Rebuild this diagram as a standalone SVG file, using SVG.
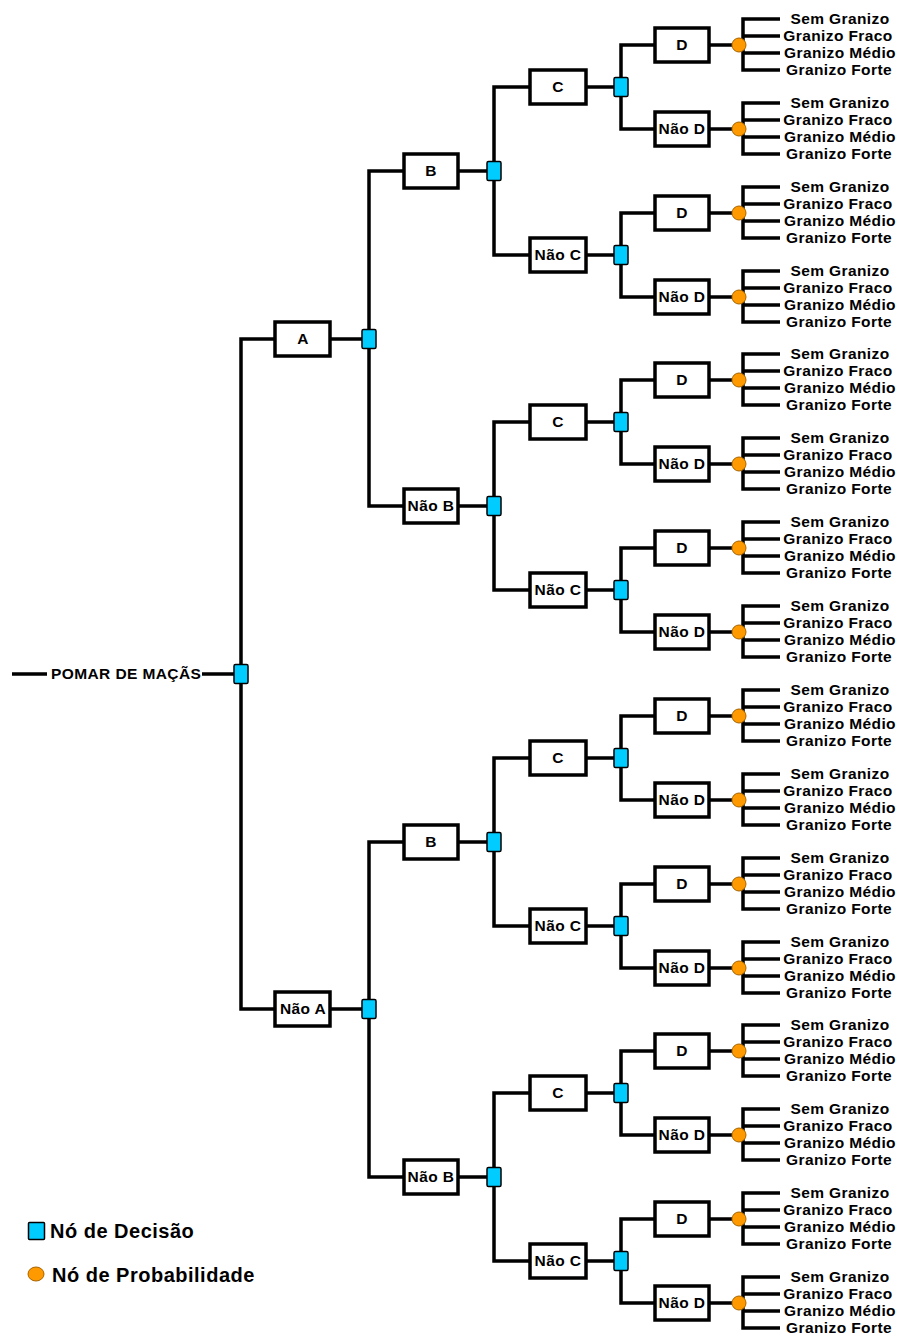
<svg xmlns="http://www.w3.org/2000/svg" width="898" height="1335" viewBox="0 0 898 1335">
<style>
.ln{fill:none;stroke:#000;stroke-width:3.5;stroke-linejoin:miter}
.box{fill:#fff;stroke:#000;stroke-width:3.5}
.dec{fill:#00CCFF;stroke:#000;stroke-width:1.5}
.prob{fill:#FF9900;stroke:#A86400;stroke-width:1}
text{font-family:"Liberation Sans",Arial,sans-serif;font-weight:bold;font-size:15.5px;letter-spacing:0.4px;fill:#000}
.m{text-anchor:middle}
.lg{font-size:20px;letter-spacing:0.5px}
</style>
<rect width="898" height="1335" fill="#fff"/>
<g id="connectors" class="ln">
<path d="M12,674 H47 M202,674 H234"/>
<path d="M275,339 H241 V1009 H275"/>
<path d="M330,339 H362 M404,171 H369 V506 H404"/>
<path d="M330,1009 H362 M404,842 H369 V1177 H404"/>
<path d="M458,171 H487 M530,87 H494 V255 H530"/>
<path d="M458,506 H487 M530,422 H494 V590 H530"/>
<path d="M458,842 H487 M530,758 H494 V926 H530"/>
<path d="M458,1177 H487 M530,1093 H494 V1261 H530"/>
<path d="M586,87 H614 M655,45 H621 V129 H655"/>
<path d="M586,255 H614 M655,213 H621 V297 H655"/>
<path d="M586,422 H614 M655,380 H621 V464 H655"/>
<path d="M586,590 H614 M655,548 H621 V632 H655"/>
<path d="M586,758 H614 M655,716 H621 V800 H655"/>
<path d="M586,926 H614 M655,884 H621 V968 H655"/>
<path d="M586,1093 H614 M655,1051 H621 V1135 H655"/>
<path d="M586,1261 H614 M655,1219 H621 V1303 H655"/>
<path d="M709,45 H732 M780,19 H743 V70 H780 M743,36 H780 M743,53 H780"/>
<path d="M709,129 H732 M780,103 H743 V154 H780 M743,120 H780 M743,137 H780"/>
<path d="M709,213 H732 M780,187 H743 V238 H780 M743,204 H780 M743,221 H780"/>
<path d="M709,297 H732 M780,271 H743 V322 H780 M743,288 H780 M743,305 H780"/>
<path d="M709,380 H732 M780,354 H743 V405 H780 M743,371 H780 M743,388 H780"/>
<path d="M709,464 H732 M780,438 H743 V489 H780 M743,455 H780 M743,472 H780"/>
<path d="M709,548 H732 M780,522 H743 V573 H780 M743,539 H780 M743,556 H780"/>
<path d="M709,632 H732 M780,606 H743 V657 H780 M743,623 H780 M743,640 H780"/>
<path d="M709,716 H732 M780,690 H743 V741 H780 M743,707 H780 M743,724 H780"/>
<path d="M709,800 H732 M780,774 H743 V825 H780 M743,791 H780 M743,808 H780"/>
<path d="M709,884 H732 M780,858 H743 V909 H780 M743,875 H780 M743,892 H780"/>
<path d="M709,968 H732 M780,942 H743 V993 H780 M743,959 H780 M743,976 H780"/>
<path d="M709,1051 H732 M780,1025 H743 V1076 H780 M743,1042 H780 M743,1059 H780"/>
<path d="M709,1135 H732 M780,1109 H743 V1160 H780 M743,1126 H780 M743,1143 H780"/>
<path d="M709,1219 H732 M780,1193 H743 V1244 H780 M743,1210 H780 M743,1227 H780"/>
<path d="M709,1303 H732 M780,1277 H743 V1328 H780 M743,1294 H780 M743,1311 H780"/>
</g>

<g id="root"><text x="51" y="679">POMAR DE MAÇÃS</text></g>
<g id="dec-root"><rect class="dec" x="234" y="664.5" width="14" height="19" rx="1.5"/></g>

<g id="box-A"><rect class="box" x="275" y="322" width="55" height="34"/><text class="m" x="303" y="344">A</text></g>
<g id="box-naoA"><rect class="box" x="275" y="992" width="55" height="34"/><text class="m" x="303" y="1014">Não A</text></g>
<g id="dec-A"><rect class="dec" x="362" y="329.5" width="14" height="19" rx="1.5"/></g>
<g id="dec-naoA"><rect class="dec" x="362" y="999.5" width="14" height="19" rx="1.5"/></g>

<g id="box-B1"><rect class="box" x="404" y="154" width="54" height="34"/><text class="m" x="431" y="176">B</text></g>
<g id="box-naoB1"><rect class="box" x="404" y="489" width="54" height="34"/><text class="m" x="431" y="511">Não B</text></g>
<g id="box-B2"><rect class="box" x="404" y="825" width="54" height="34"/><text class="m" x="431" y="847">B</text></g>
<g id="box-naoB2"><rect class="box" x="404" y="1160" width="54" height="34"/><text class="m" x="431" y="1182">Não B</text></g>
<g id="dec-B1"><rect class="dec" x="487" y="161.5" width="14" height="19" rx="1.5"/></g>
<g id="dec-naoB1"><rect class="dec" x="487" y="496.5" width="14" height="19" rx="1.5"/></g>
<g id="dec-B2"><rect class="dec" x="487" y="832.5" width="14" height="19" rx="1.5"/></g>
<g id="dec-naoB2"><rect class="dec" x="487" y="1167.5" width="14" height="19" rx="1.5"/></g>

<g id="box-C1"><rect class="box" x="530" y="70" width="56" height="34"/><text class="m" x="558" y="92">C</text></g>
<g id="box-naoC1"><rect class="box" x="530" y="238" width="56" height="34"/><text class="m" x="558" y="260">Não C</text></g>
<g id="box-C2"><rect class="box" x="530" y="405" width="56" height="34"/><text class="m" x="558" y="427">C</text></g>
<g id="box-naoC2"><rect class="box" x="530" y="573" width="56" height="34"/><text class="m" x="558" y="595">Não C</text></g>
<g id="box-C3"><rect class="box" x="530" y="741" width="56" height="34"/><text class="m" x="558" y="763">C</text></g>
<g id="box-naoC3"><rect class="box" x="530" y="909" width="56" height="34"/><text class="m" x="558" y="931">Não C</text></g>
<g id="box-C4"><rect class="box" x="530" y="1076" width="56" height="34"/><text class="m" x="558" y="1098">C</text></g>
<g id="box-naoC4"><rect class="box" x="530" y="1244" width="56" height="34"/><text class="m" x="558" y="1266">Não C</text></g>
<g id="dec-C1"><rect class="dec" x="614" y="77.5" width="14" height="19" rx="1.5"/></g>
<g id="dec-naoC1"><rect class="dec" x="614" y="245.5" width="14" height="19" rx="1.5"/></g>
<g id="dec-C2"><rect class="dec" x="614" y="412.5" width="14" height="19" rx="1.5"/></g>
<g id="dec-naoC2"><rect class="dec" x="614" y="580.5" width="14" height="19" rx="1.5"/></g>
<g id="dec-C3"><rect class="dec" x="614" y="748.5" width="14" height="19" rx="1.5"/></g>
<g id="dec-naoC3"><rect class="dec" x="614" y="916.5" width="14" height="19" rx="1.5"/></g>
<g id="dec-C4"><rect class="dec" x="614" y="1083.5" width="14" height="19" rx="1.5"/></g>
<g id="dec-naoC4"><rect class="dec" x="614" y="1251.5" width="14" height="19" rx="1.5"/></g>

<g id="box-D1"><rect class="box" x="655" y="28" width="54" height="34"/><text class="m" x="682" y="50">D</text></g>
<g id="box-naoD1"><rect class="box" x="655" y="112" width="54" height="34"/><text class="m" x="682" y="134">Não D</text></g>
<g id="box-D2"><rect class="box" x="655" y="196" width="54" height="34"/><text class="m" x="682" y="218">D</text></g>
<g id="box-naoD2"><rect class="box" x="655" y="280" width="54" height="34"/><text class="m" x="682" y="302">Não D</text></g>
<g id="box-D3"><rect class="box" x="655" y="363" width="54" height="34"/><text class="m" x="682" y="385">D</text></g>
<g id="box-naoD3"><rect class="box" x="655" y="447" width="54" height="34"/><text class="m" x="682" y="469">Não D</text></g>
<g id="box-D4"><rect class="box" x="655" y="531" width="54" height="34"/><text class="m" x="682" y="553">D</text></g>
<g id="box-naoD4"><rect class="box" x="655" y="615" width="54" height="34"/><text class="m" x="682" y="637">Não D</text></g>
<g id="box-D5"><rect class="box" x="655" y="699" width="54" height="34"/><text class="m" x="682" y="721">D</text></g>
<g id="box-naoD5"><rect class="box" x="655" y="783" width="54" height="34"/><text class="m" x="682" y="805">Não D</text></g>
<g id="box-D6"><rect class="box" x="655" y="867" width="54" height="34"/><text class="m" x="682" y="889">D</text></g>
<g id="box-naoD6"><rect class="box" x="655" y="951" width="54" height="34"/><text class="m" x="682" y="973">Não D</text></g>
<g id="box-D7"><rect class="box" x="655" y="1034" width="54" height="34"/><text class="m" x="682" y="1056">D</text></g>
<g id="box-naoD7"><rect class="box" x="655" y="1118" width="54" height="34"/><text class="m" x="682" y="1140">Não D</text></g>
<g id="box-D8"><rect class="box" x="655" y="1202" width="54" height="34"/><text class="m" x="682" y="1224">D</text></g>
<g id="box-naoD8"><rect class="box" x="655" y="1286" width="54" height="34"/><text class="m" x="682" y="1308">Não D</text></g>

<g id="prob-1"><circle class="prob" cx="739" cy="45" r="7"/><text class="m" x="840" y="24">Sem Granizo</text><text class="m" x="838" y="41">Granizo Fraco</text><text class="m" x="840" y="58">Granizo Médio</text><text class="m" x="839" y="75">Granizo Forte</text></g>
<g id="prob-2"><circle class="prob" cx="739" cy="129" r="7"/><text class="m" x="840" y="108">Sem Granizo</text><text class="m" x="838" y="125">Granizo Fraco</text><text class="m" x="840" y="142">Granizo Médio</text><text class="m" x="839" y="159">Granizo Forte</text></g>
<g id="prob-3"><circle class="prob" cx="739" cy="213" r="7"/><text class="m" x="840" y="192">Sem Granizo</text><text class="m" x="838" y="209">Granizo Fraco</text><text class="m" x="840" y="226">Granizo Médio</text><text class="m" x="839" y="243">Granizo Forte</text></g>
<g id="prob-4"><circle class="prob" cx="739" cy="297" r="7"/><text class="m" x="840" y="276">Sem Granizo</text><text class="m" x="838" y="293">Granizo Fraco</text><text class="m" x="840" y="310">Granizo Médio</text><text class="m" x="839" y="327">Granizo Forte</text></g>
<g id="prob-5"><circle class="prob" cx="739" cy="380" r="7"/><text class="m" x="840" y="359">Sem Granizo</text><text class="m" x="838" y="376">Granizo Fraco</text><text class="m" x="840" y="393">Granizo Médio</text><text class="m" x="839" y="410">Granizo Forte</text></g>
<g id="prob-6"><circle class="prob" cx="739" cy="464" r="7"/><text class="m" x="840" y="443">Sem Granizo</text><text class="m" x="838" y="460">Granizo Fraco</text><text class="m" x="840" y="477">Granizo Médio</text><text class="m" x="839" y="494">Granizo Forte</text></g>
<g id="prob-7"><circle class="prob" cx="739" cy="548" r="7"/><text class="m" x="840" y="527">Sem Granizo</text><text class="m" x="838" y="544">Granizo Fraco</text><text class="m" x="840" y="561">Granizo Médio</text><text class="m" x="839" y="578">Granizo Forte</text></g>
<g id="prob-8"><circle class="prob" cx="739" cy="632" r="7"/><text class="m" x="840" y="611">Sem Granizo</text><text class="m" x="838" y="628">Granizo Fraco</text><text class="m" x="840" y="645">Granizo Médio</text><text class="m" x="839" y="662">Granizo Forte</text></g>
<g id="prob-9"><circle class="prob" cx="739" cy="716" r="7"/><text class="m" x="840" y="695">Sem Granizo</text><text class="m" x="838" y="712">Granizo Fraco</text><text class="m" x="840" y="729">Granizo Médio</text><text class="m" x="839" y="746">Granizo Forte</text></g>
<g id="prob-10"><circle class="prob" cx="739" cy="800" r="7"/><text class="m" x="840" y="779">Sem Granizo</text><text class="m" x="838" y="796">Granizo Fraco</text><text class="m" x="840" y="813">Granizo Médio</text><text class="m" x="839" y="830">Granizo Forte</text></g>
<g id="prob-11"><circle class="prob" cx="739" cy="884" r="7"/><text class="m" x="840" y="863">Sem Granizo</text><text class="m" x="838" y="880">Granizo Fraco</text><text class="m" x="840" y="897">Granizo Médio</text><text class="m" x="839" y="914">Granizo Forte</text></g>
<g id="prob-12"><circle class="prob" cx="739" cy="968" r="7"/><text class="m" x="840" y="947">Sem Granizo</text><text class="m" x="838" y="964">Granizo Fraco</text><text class="m" x="840" y="981">Granizo Médio</text><text class="m" x="839" y="998">Granizo Forte</text></g>
<g id="prob-13"><circle class="prob" cx="739" cy="1051" r="7"/><text class="m" x="840" y="1030">Sem Granizo</text><text class="m" x="838" y="1047">Granizo Fraco</text><text class="m" x="840" y="1064">Granizo Médio</text><text class="m" x="839" y="1081">Granizo Forte</text></g>
<g id="prob-14"><circle class="prob" cx="739" cy="1135" r="7"/><text class="m" x="840" y="1114">Sem Granizo</text><text class="m" x="838" y="1131">Granizo Fraco</text><text class="m" x="840" y="1148">Granizo Médio</text><text class="m" x="839" y="1165">Granizo Forte</text></g>
<g id="prob-15"><circle class="prob" cx="739" cy="1219" r="7"/><text class="m" x="840" y="1198">Sem Granizo</text><text class="m" x="838" y="1215">Granizo Fraco</text><text class="m" x="840" y="1232">Granizo Médio</text><text class="m" x="839" y="1249">Granizo Forte</text></g>
<g id="prob-16"><circle class="prob" cx="739" cy="1303" r="7"/><text class="m" x="840" y="1282">Sem Granizo</text><text class="m" x="838" y="1299">Granizo Fraco</text><text class="m" x="840" y="1316">Granizo Médio</text><text class="m" x="839" y="1333">Granizo Forte</text></g>

<g id="legend">
<rect class="dec" x="28.5" y="1222.5" width="16" height="17" rx="1"/>
<text class="lg" x="50" y="1238">Nó de Decisão</text>
<ellipse class="prob" cx="36" cy="1274" rx="8" ry="7"/>
<text class="lg" x="52" y="1282">Nó de Probabilidade</text>
</g>
</svg>
